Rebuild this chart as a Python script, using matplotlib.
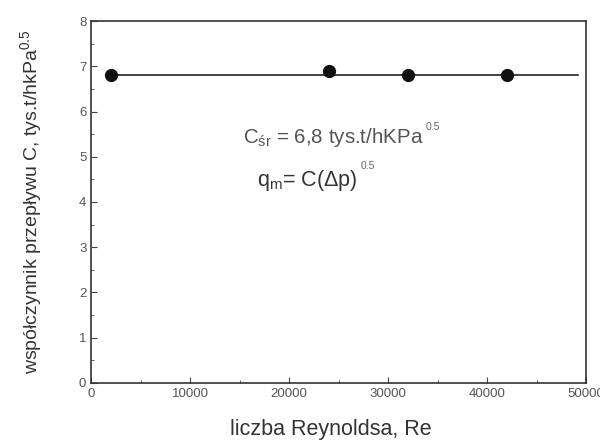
import matplotlib.pyplot as plt
from matplotlib.ticker import AutoMinorLocator

plt.rcParams['font.family'] = ['Liberation Sans', 'DejaVu Sans']
plt.rcParams['mathtext.fontset'] = 'custom'
plt.rcParams['mathtext.rm'] = 'Liberation Sans'
plt.rcParams['mathtext.it'] = 'Liberation Sans'

# measured points
re = [2000, 24000, 32000, 42000]
c = [6.8, 6.9, 6.8, 6.8]

# mean value line
line_x = [2000, 49200]
c_mean = 6.8

fig = plt.figure(figsize=(6, 4.4), dpi=100)
ax = fig.add_axes([0.152, 0.13, 0.825, 0.822])

ax.plot(line_x, [c_mean, c_mean], color='#222222', lw=1.2)
ax.plot(re, c, 'o', color='#111111', ms=8.5)

ax.set_xlim(0, 50000)
ax.set_ylim(0, 8)
ax.set_xticks([0, 10000, 20000, 30000, 40000, 50000])
ax.set_yticks(range(0, 9))
ax.xaxis.set_minor_locator(AutoMinorLocator(2))
ax.yaxis.set_minor_locator(AutoMinorLocator(2))
ax.tick_params(which='both', direction='in', colors='#444444', labelsize=9.5,
               labelcolor='#555555')
ax.tick_params(which='major', length=4)
ax.tick_params(which='minor', length=2)
for s in ax.spines.values():
    s.set_color('#333333')
    s.set_linewidth(1.2)

ax.set_xlabel('liczba Reynoldsa, Re', fontsize=15.5, color='#333333', labelpad=15)
ax.xaxis.set_label_coords(0.485, -0.1)
ax.set_ylabel('współczynnik przepływu C, tys.t/hkPa$^{0.5}$', fontsize=14,
              color='#333333', labelpad=25)

t1 = ax.text(15350, 5.3, r'C$_{śr}$ = 6,8 tys.t/hKPa', fontsize=14.8,
             color='#555555', va='baseline')
ax.annotate('0.5', xy=(1, 0.75), xycoords=t1, xytext=(1, 0),
            textcoords='offset points', fontsize=7.5, color='#666666',
            va='bottom')
t2 = ax.text(16770, 4.36, r'q$_m$= C($\Delta$p)', fontsize=15.5,
             color='#333333', va='baseline')
ax.annotate('0.5', xy=(1, 0.85), xycoords=t2, xytext=(2, 0),
            textcoords='offset points', fontsize=7.5, color='#666666',
            va='bottom')

fig.savefig('out.png')
